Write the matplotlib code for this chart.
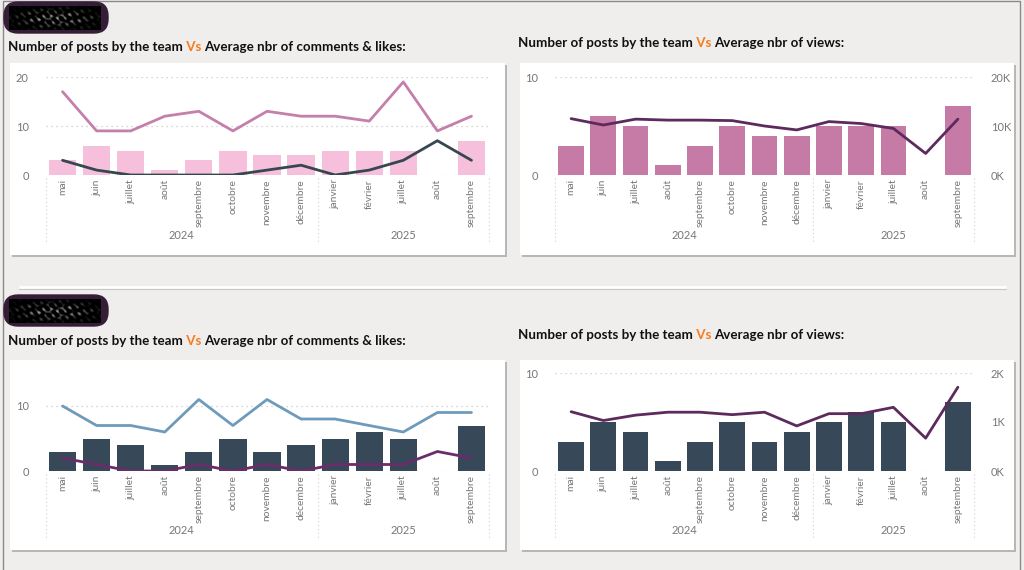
import numpy as np
import matplotlib.pyplot as plt
from matplotlib.patches import FancyBboxPatch, Rectangle
from matplotlib.transforms import blended_transform_factory

# month axis (two-level: month / year)
months = ["mai", "juin", "juillet", "août", "septembre", "octobre", "novembre",
          "décembre", "janvier", "février", "juillet", "août", "septembre"]
years = ["2024", "2025"]
n_2024 = 8

# section 1
posts_1 = [3, 6, 5, 1, 3, 5, 4, 4, 5, 5, 5, 0, 7]
likes_1 = [17, 9, 9, 12, 13, 9, 13, 12, 12, 11, 19, 9, 12]
comments_1 = [3, 1, 0, 0, 0, 0, 1, 2, 0, 1, 3, 7, 3]
views_1 = [11500, 10200, 11400, 11200, 11200, 11100, 10000, 9200, 10900, 10500, 9500, 4400, 11400]

# section 2
posts_2 = [3, 5, 4, 1, 3, 5, 3, 4, 5, 6, 5, 0, 7]
likes_2 = [10, 7, 7, 6, 11, 7, 11, 8, 8, 7, 6, 9, 9]
comments_2 = [2, 1, 0, 0, 1, 0, 1, 0, 1, 1, 1, 3, 2]
views_2 = [1210, 1030, 1140, 1200, 1200, 1150, 1200, 920, 1170, 1170, 1300, 670, 1710]

BG = "#f0eded"
GREY = "#777777"
FONT = "Lato"
W, H = 1024, 570

fig = plt.figure(figsize=(W / 100, H / 100), dpi=100)
fig.patch.set_facecolor(BG)

# background layer in pixel coordinates
bg = fig.add_axes([0, 0, 1, 1])
bg.set_xlim(0, W)
bg.set_ylim(H, 0)
bg.axis("off")
bg.add_patch(Rectangle((3, 1), 1017, 575, fill=False, ec="#8a8a8a", lw=1))


def px(x, y, w, h):
    return [x / W, 1 - (y + h) / H, w / W, h / H]


def badge(y):
    # blurred name tag: dark purple pill with a scribbled grey inside
    bg.add_patch(FancyBboxPatch((4, y), 104, 31, boxstyle="round,pad=0,rounding_size=14",
                                fc="#361d37", ec="#361d37", lw=1, zorder=2))
    yy, xx = np.mgrid[0:24, 0:92].astype(float)
    streak = np.sin((xx - yy * 0.9) * 0.8) * np.sin(xx * 0.13 + yy * 0.35) + \
        0.6 * np.sin((xx + yy * 1.7) * 0.45) * np.cos(xx * 0.31)
    env = np.exp(-((xx - 46) / 34) ** 2) * np.exp(-((yy - 12) / 8) ** 2)
    tex = np.clip(streak, 0, None) * env
    bg.imshow(tex, cmap="gray", vmin=0, vmax=1.8, extent=(9, 101, y + 28, y + 4),
              aspect="auto", interpolation="bicubic", zorder=3)


def title(x, y, rest):
    kw = dict(fontsize=9.6, fontweight="bold", family=FONT)
    t1 = bg.text(x, y, "Number of posts by the team", color="#111111", va="center", **kw)
    t2 = bg.annotate(" Vs ", xy=(1, 0), xycoords=t1, va="bottom", color="#f57c1f", **kw)
    bg.annotate(rest, xy=(1, 0), xycoords=t2, va="bottom", color="#111111", **kw)


def card(x, y, w, h):
    bg.add_patch(Rectangle((x + 2, y + 2), w, h, fc="#b8b6b6", ec="none", zorder=1))
    bg.add_patch(Rectangle((x, y), w, h, fc="white", ec="none", zorder=2))


def combo(rect, bars, bar_color, ylim, yticks, lines=(), twin=None):
    ax = fig.add_axes(px(*rect))
    ax.set_facecolor("none")
    x = np.arange(len(months))
    ax.bar(x, bars, width=0.8, color=bar_color, zorder=2)
    for vals, col in lines:
        ax.plot(x, vals, color=col, lw=2, zorder=3, solid_capstyle="round")
    ax.set_xlim(-0.5, len(months) - 0.5)
    ax.set_ylim(*ylim)
    ax.set_yticks(yticks)
    ax.grid(axis="y", linestyle=(0, (1, 3)), color="#c8c8c8", lw=0.9)
    ax.set_axisbelow(True)
    for s in ax.spines.values():
        s.set_visible(False)
    ax.tick_params(axis="y", length=0, pad=12, labelsize=8, labelcolor=GREY)
    for lab in ax.get_yticklabels():
        lab.set_family(FONT)
    ax.set_xticks(x)
    ax.set_xticklabels(months, rotation=90, fontsize=7.4, color=GREY, family=FONT)
    ax.tick_params(axis="x", length=0, pad=3)

    tr = blended_transform_factory(ax.transData, ax.transAxes)
    for sx in (-0.5, n_2024 - 0.5, len(months) - 0.5):
        ax.plot([sx, sx], [-0.03, -0.69], transform=tr, clip_on=False,
                color="#d0d0d0", lw=0.8, linestyle=(0, (1, 2.5)))
    centers = [(n_2024 - 1) / 2, (n_2024 + len(months) - 1) / 2]
    for cx, yr in zip(centers, years):
        ax.annotate(yr, xy=(cx, 0), xycoords=("data", "axes fraction"),
                    xytext=(0, -60), textcoords="offset pixels", family=FONT,
                    ha="center", va="center", fontsize=8, color=GREY)

    if twin is not None:
        vals, col, tlim, tticks, tlabels = twin
        ax2 = ax.twinx()
        ax2.plot(x, vals, color=col, lw=2, zorder=3, solid_capstyle="round")
        ax2.set_ylim(*tlim)
        ax2.set_yticks(tticks)
        ax2.set_yticklabels(tlabels, family=FONT)
        for s in ax2.spines.values():
            s.set_visible(False)
        ax2.tick_params(axis="y", length=0, pad=12, labelsize=8, labelcolor=GREY)
    return ax


# ---- section 1 ----
badge(2)
title(8, 47, "Average nbr of comments & likes:")
title(518, 43, "Average nbr of views:")
card(10, 63, 495, 192)
card(520, 63, 494, 192)
combo((45.5, 77, 443, 98), posts_1, "#f6bfdc", (0, 20), [0, 10, 20],
      lines=[(likes_1, "#c47fab"), (comments_1, "#37474f")])
combo((555, 77, 419, 98), posts_1, "#c67ba6", (0, 10), [0, 10],
      twin=(views_1, "#5c2a5d", (0, 20000), [0, 10000, 20000], ["0K", "10K", "20K"]))

# separator
bg.plot([20, 1005], [288, 288], color="#c9c6c6", lw=2.2, zorder=1)
bg.plot([20, 1005], [286.5, 286.5], color="white", lw=2, zorder=2)

# ---- section 2 ----
badge(295)
title(8, 341, "Average nbr of comments & likes:")
title(518, 335, "Average nbr of views:")
card(10, 360, 495, 190)
card(520, 360, 494, 190)
combo((45.5, 373.5, 443, 97.5), posts_2, "#374859", (0, 15), [0, 10],
      lines=[(likes_2, "#6f9bbb"), (comments_2, "#6a2c6a")])
combo((555, 373, 419, 98), posts_2, "#374859", (0, 10), [0, 10],
      twin=(views_2, "#5c2a5d", (0, 2000), [0, 1000, 2000], ["0K", "1K", "2K"]))

fig.savefig("out.png", dpi=100, facecolor=BG)
